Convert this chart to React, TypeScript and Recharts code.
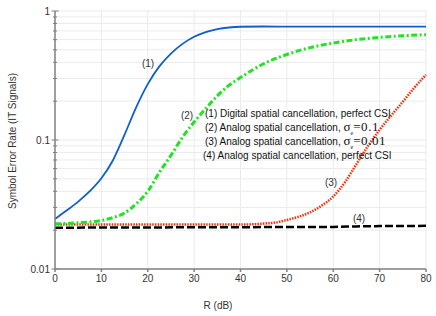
import React from 'react';
import { LineChart, Line, XAxis, YAxis, CartesianGrid } from 'recharts';

// R (dB) sample points and symbol error rate for each scheme
const rDigital = [0, 2.5, 5, 7.5, 10, 12.5, 15, 17.5, 20, 22.5, 25, 27.5, 30, 32.5, 35, 37.5, 40, 45, 50, 60, 70, 80];
const serDigital = [0.0244, 0.0284, 0.0333, 0.0401, 0.0505, 0.0697, 0.11, 0.179, 0.271, 0.372, 0.468, 0.556, 0.631, 0.687, 0.724, 0.745, 0.755, 0.758, 0.757, 0.756, 0.756, 0.756];

const rSigma01 = [0, 5, 10, 12.5, 15, 17.5, 20, 22.5, 25, 27.5, 30, 32.5, 35, 37.5, 40, 45, 50, 55, 60, 65, 70, 75, 80];
const serSigma01 = [0.0224, 0.0228, 0.0238, 0.025, 0.0272, 0.032, 0.04, 0.056, 0.076, 0.105, 0.138, 0.175, 0.22, 0.265, 0.305, 0.39, 0.46, 0.52, 0.565, 0.6, 0.625, 0.643, 0.655];

const rSigma001 = [0, 10, 20, 30, 40, 42.5, 45, 47.5, 50, 52.5, 55, 57.5, 60, 62.5, 65, 67.5, 70, 72.5, 75, 77.5, 80];
const serSigma001 = [0.0221, 0.0221, 0.0221, 0.0221, 0.0221, 0.0222, 0.0225, 0.0229, 0.024, 0.0254, 0.0275, 0.031, 0.0365, 0.047, 0.065, 0.09, 0.12, 0.155, 0.198, 0.255, 0.32];

const rPerfect = [0, 20, 40, 60, 65, 70, 80];
const serPerfect = [0.0209, 0.021, 0.0211, 0.0212, 0.0214, 0.0215, 0.0216];

const xTicks = [0, 10, 20, 30, 40, 50, 60, 70, 80];
const majorTicks = [0.01, 0.1, 1];
const yTicks = [
  0.01, 0.02, 0.03, 0.04, 0.05, 0.06, 0.07, 0.08, 0.09,
  0.1, 0.2, 0.3, 0.4, 0.5, 0.6, 0.7, 0.8, 0.9, 1,
];

const legendLines = [
  { id: '(1)', text: 'Digital spatial cancellation, perfect CSI' },
  { id: '(2)', text: 'Analog spatial cancellation, ', sigma: '=0.1' },
  { id: '(3)', text: 'Analog spatial cancellation, ', sigma: '=0.01' },
  { id: '(4)', text: 'Analog spatial cancellation, perfect CSI' },
];

const toPoints = (xs: number[], ys: number[]) => xs.map((r, i) => ({ r, ser: ys[i] }));

const FONT = '"Liberation Sans", Arial, sans-serif';
const SERIF = '"Liberation Serif", "Times New Roman", serif';

const YTick = ({ x, y, payload }: any) => {
  const major = majorTicks.some((m) => Math.abs(m - payload.value) < 1e-9);
  const len = major ? 3.5 : 2;
  return (
    <g>
      <line x1={x - len} x2={x + len} y1={y} y2={y} stroke="#808080" strokeWidth={1} />
      {major && (
        <text x={x - 5} y={y} dy="0.35em" textAnchor="end" fontSize={10} fill="#333" fontFamily={FONT}>
          {String(payload.value)}
        </text>
      )}
    </g>
  );
};

export default function App() {
  return (
    <div style={{ position: 'relative', width: 436, height: 316, background: '#fff' }}>
      <style>{`body{margin:0}`}</style>
      <LineChart width={436} height={316} margin={{ top: 11, right: 10, left: 0, bottom: 0 }}>
        <CartesianGrid stroke="#ebebeb" strokeWidth={1} />
        <XAxis
          dataKey="r"
          type="number"
          domain={[0, 80]}
          ticks={xTicks}
          height={47}
          stroke="#808080"
          strokeWidth={1.5}
          tickSize={3}
          tickMargin={3}
          tick={{ fontSize: 10, fill: '#333', fontFamily: FONT }}
          allowDuplicatedCategory={false}
        />
        <YAxis
          dataKey="ser"
          scale="log"
          domain={[0.01, 1]}
          ticks={yTicks}
          interval={0}
          allowDataOverflow
          width={55}
          stroke="#808080"
          strokeWidth={1.5}
          tickLine={false}
          tickSize={0}
          tickMargin={0}
          tick={<YTick />}
        />
        <Line data={toPoints(rPerfect, serPerfect)} dataKey="ser" type="monotone" stroke="#000" strokeWidth={2.5} strokeDasharray="8 3" dot={false} isAnimationActive={false} />
        <Line data={toPoints(rSigma001, serSigma001)} dataKey="ser" type="monotone" stroke="#ff2a00" strokeWidth={2.5} strokeDasharray="1.5 1.2" dot={false} isAnimationActive={false} />
        <Line data={toPoints(rSigma01, serSigma01)} dataKey="ser" type="monotone" stroke="#1ee61e" strokeWidth={3} strokeDasharray="6 2.5 2 2.5" dot={false} isAnimationActive={false} />
        <Line data={toPoints(rDigital, serDigital)} dataKey="ser" type="monotone" stroke="#0f5fcd" strokeWidth={1.8} dot={false} isAnimationActive={false} />
      </LineChart>
      <svg width={436} height={316} style={{ position: 'absolute', left: 0, top: 0, pointerEvents: 'none' }}>
        <text x={12} y={141} transform="rotate(-90 12 141)" textAnchor="middle" dy="0.35em" fontSize={10} fill="#333" fontFamily={FONT}>
          Symbol Error Rate (IT Signals)
        </text>
        <text x={218} y={305} textAnchor="middle" dy="0.35em" fontSize={10} fill="#333" fontFamily={FONT}>
          R (dB)
        </text>
        <g fontSize={10} fill="#333" fontFamily={FONT}>
          <text x={148} y={63} textAnchor="middle" dy="0.35em">(1)</text>
          <text x={187} y={115} textAnchor="middle" dy="0.35em">(2)</text>
          <text x={331} y={182} textAnchor="middle" dy="0.35em">(3)</text>
          <text x={359} y={218} textAnchor="middle" dy="0.35em">(4)</text>
        </g>
        {legendLines.map((l, i) => (
          <text key={l.id} x={i === 3 ? 203 : 205} y={[113, 127, 141, 155][i]} dy="0.35em" fontSize={10} fill="#111" fontFamily={FONT}>
            {l.id} {l.text}
            {l.sigma && (
              <>
                <tspan fontFamily={SERIF} fontSize={13}>σ</tspan>
                <tspan fontFamily={SERIF} fontSize={6} dy={4}>e</tspan>
                <tspan fontFamily={SERIF} fontSize={13} dy={-4} letterSpacing={0.6}>{l.sigma}</tspan>
              </>
            )}
          </text>
        ))}
      </svg>
    </div>
  );
}
